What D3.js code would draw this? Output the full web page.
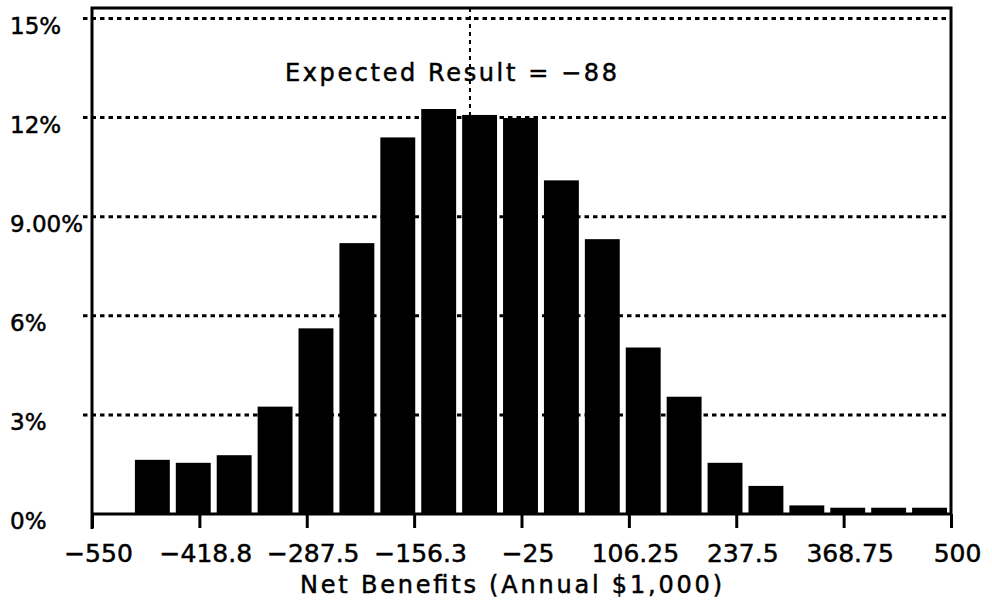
<!DOCTYPE html>
<html>
<head>
<meta charset="utf-8">
<script src="https://cdn.jsdelivr.net/npm/d3@7"></script>
<style>
  body { margin: 0; background: #fff; }
  text { font-family: "DejaVu Sans", sans-serif; fill: #000; stroke: #000; stroke-width: 0.5px; }
</style>
</head>
<body>
<script>
// histogram bins, each 50 wide (left edge)
var binStart = [-500, -450, -400, -350, -300, -250, -200, -150, -100, -50,
                0, 50, 100, 150, 200, 250, 300, 350, 400, 450];
var binWidth = 50;
var percent = [1.64, 1.55, 1.78, 3.25, 5.62, 8.2, 11.4, 12.26, 12.08, 11.99,
               10.1, 8.32, 5.04, 3.55, 1.55, 0.85, 0.26, 0.19, 0.19, 0.19];

var xTicks = [-550, -418.75, -287.5, -156.25, -25, 106.25, 237.5, 368.75, 500];
var xTickLabels = ['\u2212550', '\u2212418.8', '\u2212287.5', '\u2212156.3', '\u221225',
                   '106.25', '237.5', '368.75', '500'];
var yTicks = [0, 3, 6, 9, 12, 15];
var yTickLabels = ['0%', '3%', '6%', '9.00%', '12%', '15%'];

var expected = -88;

var width = 992;
var height = 607;

// note: "top" is taken by window.top, so plotTop
var plotLeft = 92, plotRight = 951, plotTop = 8, plotBottom = 514;

var x = d3.scaleLinear().domain([-550, 500]).range([plotLeft, plotRight]);
var y = d3.scaleLinear().domain([0, 15]).range([plotBottom, 18.5]);

var svg = d3.select('body').append('svg')
  .attr('width', width)
  .attr('height', height);

svg.append('rect').attr('width', width).attr('height', height).attr('fill', '#fff');

// dotted gridlines (also make the little ticks left of the axis)
svg.append('g').selectAll('line')
  .data(yTicks.filter(function(d) { return d > 0; }))
  .enter().append('line')
  .attr('x1', plotLeft - 9)
  .attr('x2', plotRight)
  .attr('y1', function(d) { return y(d); })
  .attr('y2', function(d) { return y(d); })
  .attr('stroke', '#000')
  .attr('stroke-width', 3)
  .attr('stroke-dasharray', '4.5,4');

// expected result marker
svg.append('line')
  .attr('x1', x(expected)).attr('x2', x(expected))
  .attr('y1', plotTop).attr('y2', plotBottom)
  .attr('stroke', '#000')
  .attr('stroke-width', 2)
  .attr('stroke-dasharray', '4,4');

// bars
svg.append('g').selectAll('rect')
  .data(percent)
  .enter().append('rect')
  .attr('x', function(d, i) { return x(binStart[i]) + 2; })
  .attr('width', function(d, i) { return x(binStart[i] + binWidth) - x(binStart[i]) - 6; })
  .attr('y', function(d) { return y(d); })
  .attr('height', function(d) { return plotBottom - y(d); })
  .attr('fill', '#000');

// frame
svg.append('path')
  .attr('d', 'M' + plotLeft + ',' + (plotBottom + 15) + 'V' + plotTop + 'H' + plotRight +
             'V' + plotBottom + 'H' + plotLeft)
  .attr('fill', 'none')
  .attr('stroke', '#000')
  .attr('stroke-width', 3);

// x axis
var xAxis = d3.axisBottom(x)
  .tickValues(xTicks)
  .tickSize(14)
  .tickFormat(function(d, i) { return xTickLabels[i]; });

var gx = svg.append('g')
  .attr('transform', 'translate(0,' + plotBottom + ')')
  .call(xAxis);
gx.select('.domain').remove();
gx.selectAll('.tick line').attr('stroke', '#000').attr('stroke-width', 3);
gx.selectAll('.tick text')
  .attr('y', 48)
  .attr('dy', null)
  .attr('x', 6)
  .style('font-family', '"DejaVu Sans", sans-serif')
  .style('font-size', '25px');

// y labels, left aligned under each gridline
svg.append('g').selectAll('text')
  .data(yTicks)
  .enter().append('text')
  .attr('x', 10)
  .attr('y', function(d) { return y(d) + 15; })
  .style('font-size', '23px')
  .text(function(d, i) { return yTickLabels[i]; });

svg.append('text')
  .attr('x', 285)
  .attr('y', 81)
  .attr('textLength', 332)
  .style('font-size', '24px')
  .text('Expected Result = \u221288');

svg.append('text')
  .attr('x', 300)
  .attr('y', 593)
  .attr('textLength', 422)
  .style('font-size', '24px')
  .text('Net Benefits (Annual $1,000)');
</script>
</body>
</html>
